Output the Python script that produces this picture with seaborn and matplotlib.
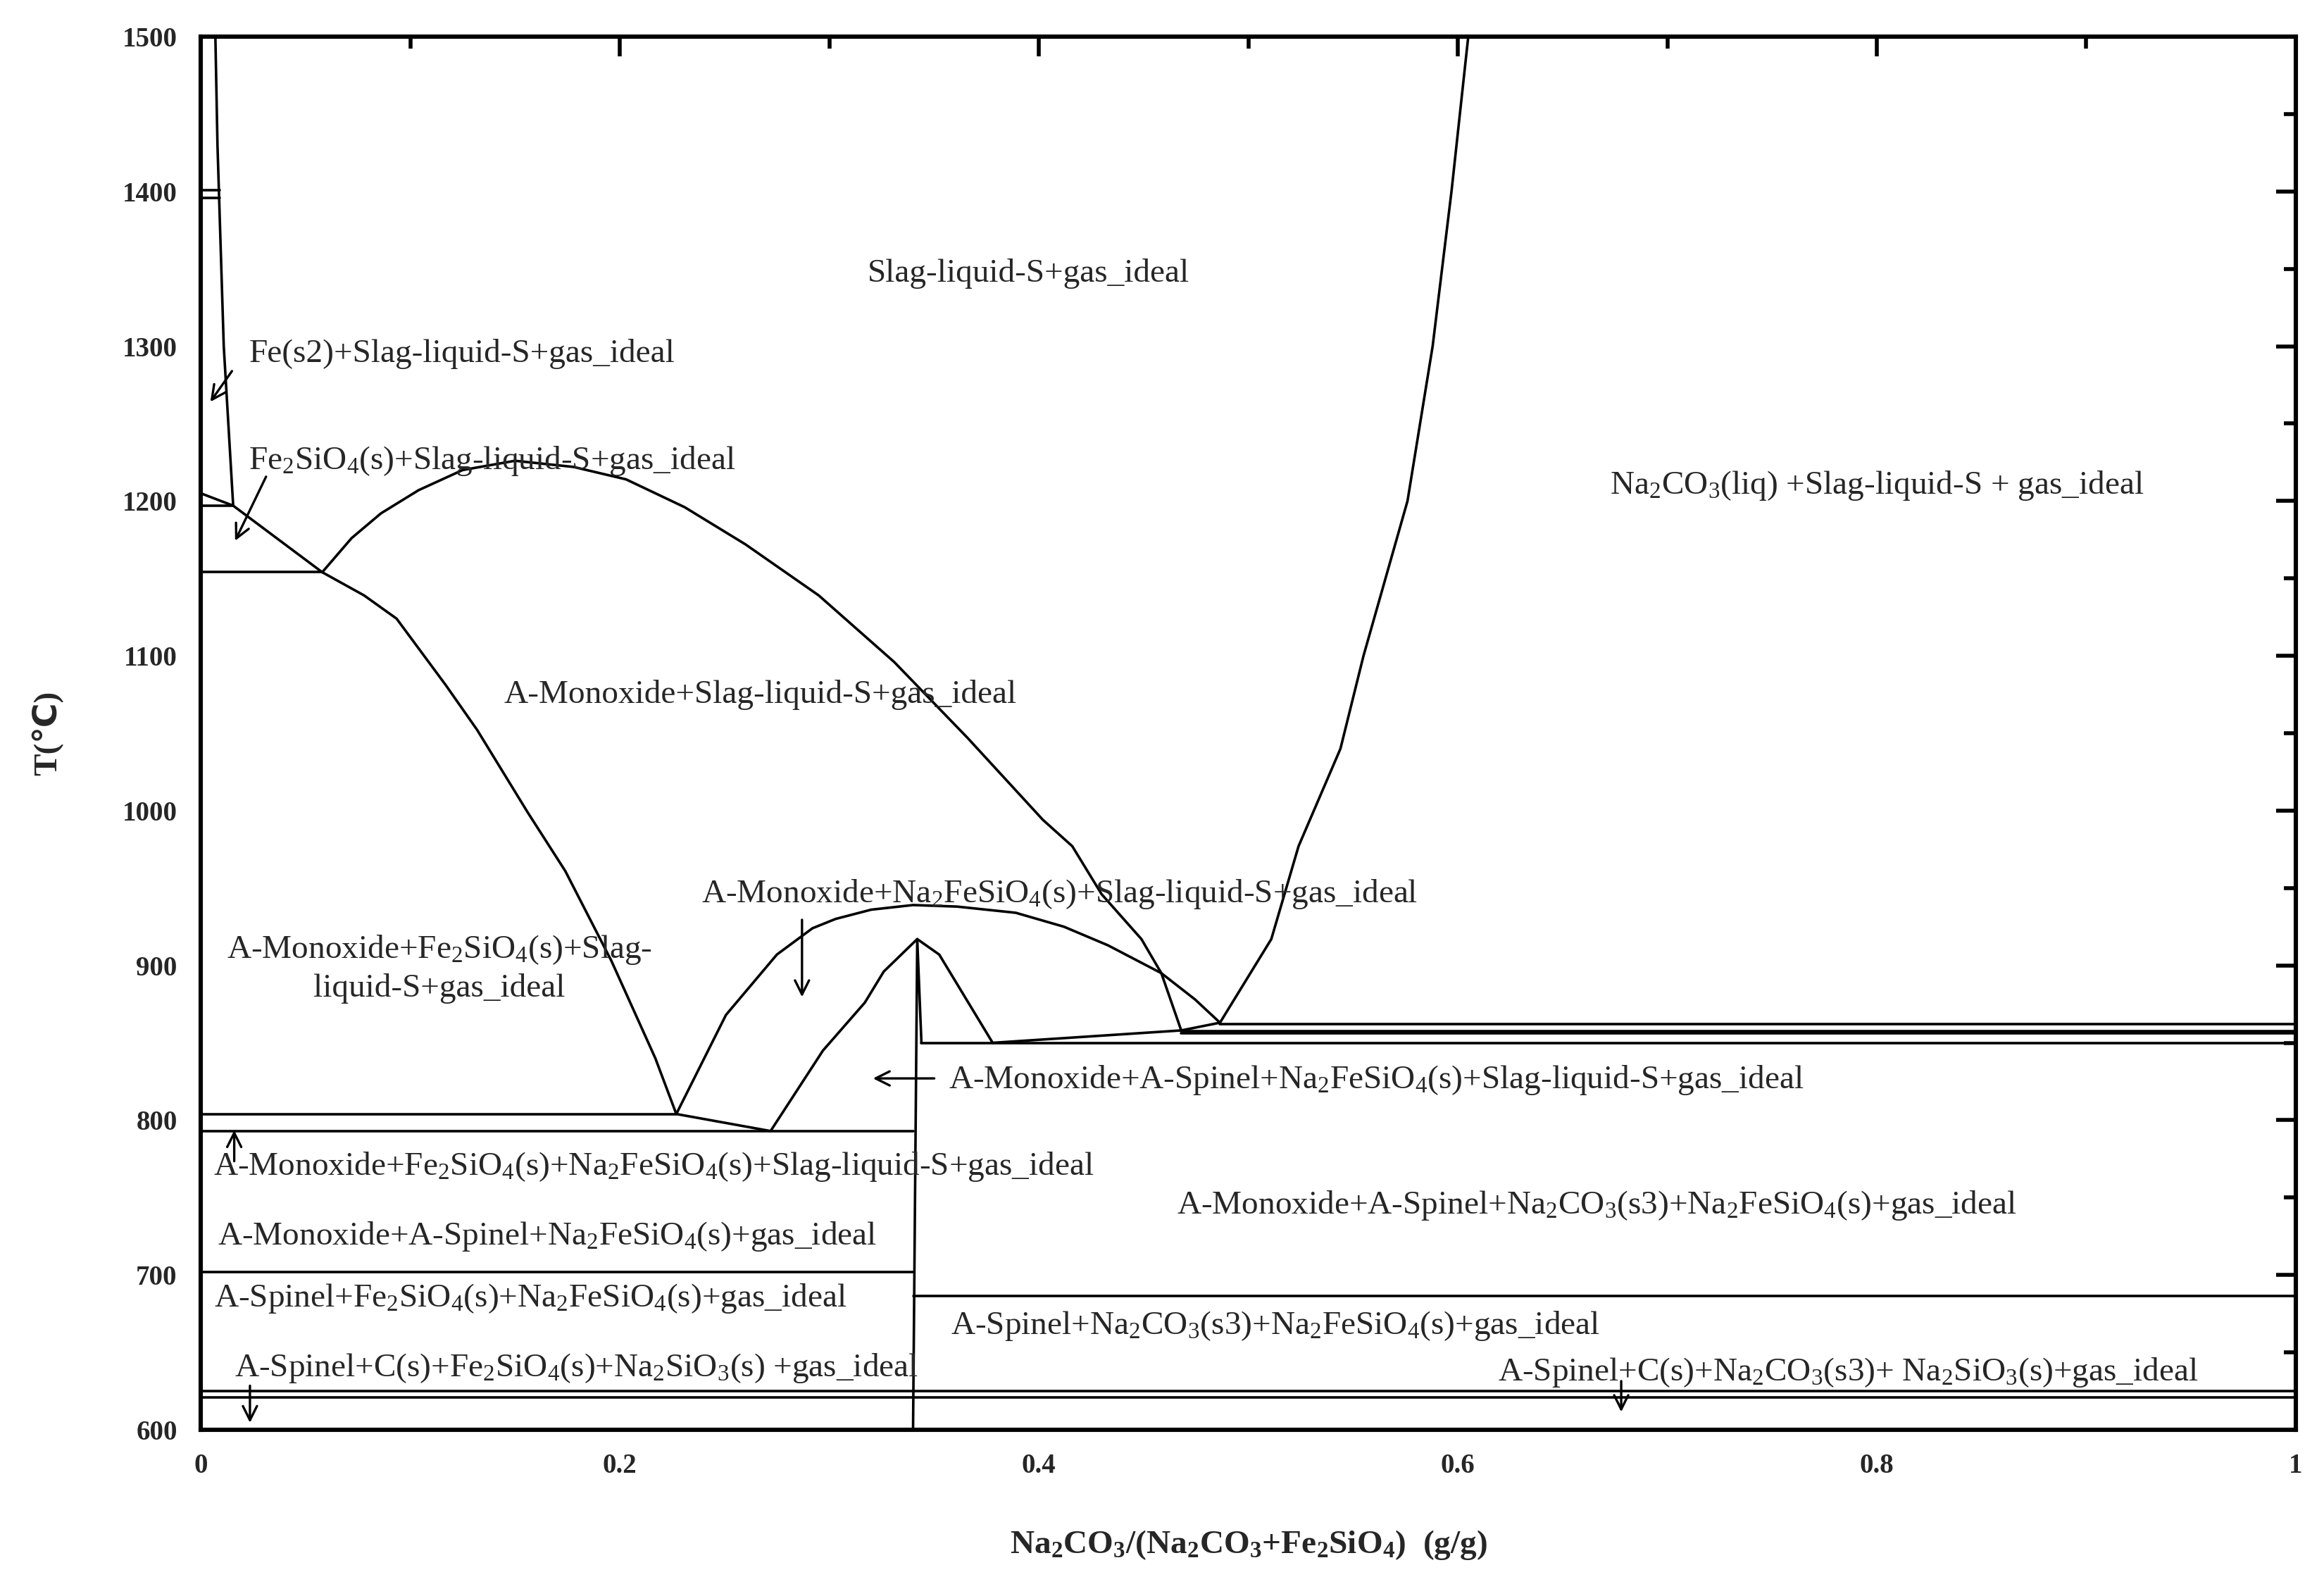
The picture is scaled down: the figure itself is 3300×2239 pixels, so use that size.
import matplotlib
matplotlib.use("Agg")
import matplotlib.pyplot as plt
import seaborn as sns
from matplotlib.ticker import MultipleLocator

# ---------- phase boundary data (x = mass fraction, T in degC) ----------
fe_x = [0.007, 0.008, 0.011, 0.0155]
fe_t = [1500, 1430, 1300, 1197]

slope_x = [0.0, 0.0155, 0.058, 0.078, 0.0935, 0.117, 0.132, 0.156, 0.174, 0.196, 0.217, 0.227]
slope_t = [1205, 1197, 1154, 1139, 1124, 1081, 1052, 999, 961, 903, 840, 804]

dome_x = [0.058, 0.072, 0.086, 0.104, 0.125, 0.150, 0.178, 0.203, 0.231, 0.260, 0.295,
          0.331, 0.366, 0.402, 0.416, 0.430, 0.449, 0.4585, 0.468]
dome_t = [1154, 1176, 1192, 1207, 1220, 1226, 1222, 1214, 1196, 1172, 1139,
          1096, 1047, 994, 977, 946, 917, 895, 858]

small_x = [0.227, 0.2507, 0.275, 0.292, 0.303, 0.320, 0.340, 0.361, 0.389, 0.412, 0.433,
           0.4585, 0.4746, 0.4865]
small_t = [804, 868, 907, 924, 930, 936, 939, 938, 934, 925, 913, 895, 878, 863]

liq_x = [0.4865, 0.511, 0.524, 0.544, 0.555, 0.576, 0.588, 0.597, 0.605]
liq_t = [863, 917, 977, 1040, 1100, 1200, 1300, 1400, 1500]

vee_x = [0.227, 0.272, 0.297, 0.317, 0.326, 0.342, 0.3525, 0.378, 0.468, 0.4865]
vee_t = [804, 793, 845, 876, 896, 917, 907, 850, 858, 863]

vert_x = [0.340, 0.342, 0.344]
vert_t = [600, 917, 850]

# horizontal invariant lines: (T, x_start, x_end)
h_T = [1401, 1396, 1197, 1154, 804, 793, 702, 862, 857.5, 856, 850, 686.5, 625, 621]
h_x0 = [0, 0, 0, 0, 0, 0, 0, 0.4865, 0.468, 0.468, 0.344, 0.340, 0, 0]
h_x1 = [0.009, 0.009, 0.0155, 0.058, 0.227, 0.340, 0.340, 1, 1, 1, 1, 1, 1, 1]

sns.set_theme(style="white")
plt.rcParams['font.family'] = ['Liberation Serif', 'DejaVu Sans']
plt.rcParams['mathtext.fontset'] = 'custom'
plt.rcParams['mathtext.rm'] = 'Liberation Serif'
plt.rcParams['mathtext.default'] = 'regular'

fig = plt.figure(figsize=(16.5, 11.195), dpi=200)
ax = fig.add_axes([285 / 3300, 1 - 2030 / 2239, 2975 / 3300, 1978 / 2239])
lw = 1.3
kw = dict(color='black', lw=lw)

for xs, ts in [(fe_x, fe_t), (slope_x, slope_t), (dome_x, dome_t), (small_x, small_t),
               (liq_x, liq_t), (vee_x, vee_t), (vert_x, vert_t)]:
    sns.lineplot(x=xs, y=ts, ax=ax, sort=False, estimator=None, **kw)
for t, a, b in zip(h_T, h_x0, h_x1):
    ax.plot([a, b], [t, t], **kw)

fs = 17
ax.text(0.395, 1347, "Slag-liquid-S+gas_ideal", fontsize=fs, ha='center', va='center')
ax.text(0.80, 1210, "Na$_2$CO$_3$(liq) +Slag-liquid-S + gas_ideal", fontsize=fs, ha='center', va='center')
ax.text(0.267, 1075, "A-Monoxide+Slag-liquid-S+gas_ideal", fontsize=fs, ha='center', va='center')
ax.text(0.023, 1295, "Fe(s2)+Slag-liquid-S+gas_ideal", fontsize=fs, ha='left', va='center')
ax.text(0.023, 1226, "Fe$_2$SiO$_4$(s)+Slag-liquid-S+gas_ideal", fontsize=fs, ha='left', va='center')
ax.text(0.41, 946, "A-Monoxide+Na$_2$FeSiO$_4$(s)+Slag-liquid-S+gas_ideal", fontsize=fs, ha='center', va='center')
ax.text(0.114, 898, "A-Monoxide+Fe$_2$SiO$_4$(s)+Slag-\nliquid-S+gas_ideal", fontsize=fs, ha='center',
        va='center', multialignment='center', linespacing=1.3)
ax.text(0.357, 826, "A-Monoxide+A-Spinel+Na$_2$FeSiO$_4$(s)+Slag-liquid-S+gas_ideal", fontsize=fs, va='center')
ax.text(0.006, 770, "A-Monoxide+Fe$_2$SiO$_4$(s)+Na$_2$FeSiO$_4$(s)+Slag-liquid-S+gas_ideal", fontsize=fs, va='center')
ax.text(0.008, 725, "A-Monoxide+A-Spinel+Na$_2$FeSiO$_4$(s)+gas_ideal", fontsize=fs, va='center')
ax.text(0.466, 745, "A-Monoxide+A-Spinel+Na$_2$CO$_3$(s3)+Na$_2$FeSiO$_4$(s)+gas_ideal", fontsize=fs, va='center')
ax.text(0.0065, 685, "A-Spinel+Fe$_2$SiO$_4$(s)+Na$_2$FeSiO$_4$(s)+gas_ideal", fontsize=fs, va='center')
ax.text(0.358, 667, "A-Spinel+Na$_2$CO$_3$(s3)+Na$_2$FeSiO$_4$(s)+gas_ideal", fontsize=fs, va='center')
ax.text(0.016, 640, "A-Spinel+C(s)+Fe$_2$SiO$_4$(s)+Na$_2$SiO$_3$(s) +gas_ideal", fontsize=fs, va='center')
ax.text(0.619, 637, "A-Spinel+C(s)+Na$_2$CO$_3$(s3)+ Na$_2$SiO$_3$(s)+gas_ideal", fontsize=fs, va='center')

arrows = [((0.016, 1286), (0.0035, 1262)), ((0.032, 1218), (0.0156, 1172)),
          ((0.287, 932), (0.287, 877)), ((0.352, 827), (0.319, 827)),
          ((0.016, 771), (0.016, 796)), ((0.0235, 631), (0.0235, 602)),
          ((0.678, 634), (0.678, 609))]
for (x0, y0), (x1, y1) in arrows:
    ax.annotate("", xy=(x1, y1), xytext=(x0, y0),
                arrowprops=dict(arrowstyle='->', color='black', lw=1.2, mutation_scale=18))

ax.set_xlim(0, 1)
ax.set_ylim(600, 1500)
ax.set_xticks([0, 0.2, 0.4, 0.6, 0.8, 1])
ax.set_xticklabels(["0", "0.2", "0.4", "0.6", "0.8", "1"])
ax.set_yticks(range(600, 1501, 100))
ax.xaxis.set_minor_locator(MultipleLocator(0.1))
ax.yaxis.set_minor_locator(MultipleLocator(50))
ax.tick_params(which='both', direction='in', top=True, right=True, width=2, color='black')
ax.tick_params(which='major', length=10, labelsize=14, pad=12)
ax.tick_params(which='minor', length=6)
for lab in ax.get_xticklabels() + ax.get_yticklabels():
    lab.set_fontweight('bold')
for s in ax.spines.values():
    s.set_linewidth(2.2)
    s.set_color('black')

ax.set_xlabel("Na$_2$CO$_3$/(Na$_2$CO$_3$+Fe$_2$SiO$_4$)  (g/g)", fontsize=17, fontweight='bold', labelpad=25)
ax.set_ylabel("T(℃)", fontsize=17, fontweight='bold', labelpad=30)
ax.xaxis.label.set_math_fontfamily('custom')

fig.savefig("out.png", dpi=200)
